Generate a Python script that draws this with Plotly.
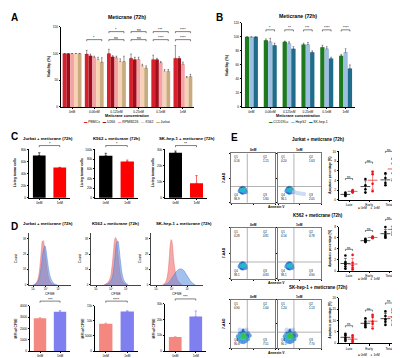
import plotly.graph_objects as go
import numpy as np

W, H = 400, 358
FONT = "Liberation Sans, Arial, sans-serif"

# ---------------- DATA ----------------
conc = ["0nM", "0.06nM", "0.125nM", "0.25nM", "0.5nM", "1nM"]
# Panel A
a_names = ["PBMCs", "U266", "RPMI8226", "K562", "Jurkat"]
a_pbmc = [100, 99, 100, 91, 89, 91]
a_u266 = [100, 96, 94, 89, 89, 91]
a_rpmi = [100, 93, 92, 89, 83, 80]
a_k562 = [100, 89, 85, 77, 67, 55]
a_jurkat = [100, 84, 85, 73, 67, 57]
a_pbmc_err = [0, 7, 8, 8, 8, 24]
a_u266_err = [0, 3, 2, 4, 2, 3]
a_rpmi_err = [0, 2, 3, 4, 2, 4]
a_k562_err = [0, 4, 5, 3, 3, 2]
a_jurkat_err = [0, 8, 10, 4, 3, 4]
a_sig_top = ["", "", "*", "ns", "***", "****"]
a_sig_bot = ["", "*", "ns", "ns", "****", "****"]
# Panel B
b_names = ["CCD19Lu", "HepG2", "SK-hep-1"]
b_ccd = [100, 95, 93, 89, 85, 73]
b_hepg2 = [100, 93, 91, 89, 83, 78]
b_sk = [100, 88, 83, 78, 69, 55]
b_ccd_err = [0, 2, 1, 2, 3, 2]
b_hepg2_err = [0, 5, 2, 3, 3, 5]
b_sk_err = [0, 3, 3, 2, 2, 5]
b_sig = ["", "*", "**", "***", "****", "****"]
# Panel C
c_cats = ["0nM", "1nM"]
c_titles = ["Jurkat + meticrane (72h)", "K562 + meticrane (72h)", "SK-hep-1 + meticrane (72h)"]
c_jurkat = [70000, 50000]
c_k562 = [87000, 75000]
c_skhep = [28000, 9000]
c_jurkat_err = [4500, 500]
c_k562_err = [5000, 3000]
c_skhep_err = [1000, 4800]
c_sig = ["*", "*", "**"]
# Panel D histograms (CFSE, relative units)
d1_0_x = [10, 15, 20, 24, 27, 30, 32, 34, 36, 39, 42, 45, 49, 54, 62]
d1_0_y = [0, 2, 8, 22, 45, 72, 85, 86, 78, 58, 38, 20, 8, 2, 0]
d1_1_x = [12, 18, 23, 27, 30, 33, 36, 38, 40, 43, 46, 50, 55, 60, 68]
d1_1_y = [0, 3, 10, 24, 42, 62, 73, 76, 70, 52, 34, 17, 7, 2, 0]
d2_0_x = [25, 32, 38, 42, 45, 47, 49, 51, 53, 56, 60, 65, 72]
d2_0_y = [0, 3, 12, 35, 65, 85, 92, 88, 70, 40, 15, 4, 0]
d2_1_x = [28, 35, 41, 45, 48, 50, 52, 54, 56, 59, 63, 68, 75]
d2_1_y = [0, 3, 10, 28, 55, 75, 84, 85, 72, 45, 18, 5, 0]
d3_0_x = [22, 28, 32, 35, 37, 39, 41, 43, 46, 50, 55, 60]
d3_0_y = [0, 5, 20, 50, 78, 88, 80, 55, 30, 12, 4, 0]
d3_1_x = [25, 32, 38, 43, 48, 53, 58, 63, 68, 73, 78, 85]
d3_1_y = [0, 3, 10, 18, 25, 30, 31, 28, 20, 12, 5, 0]
# Panel D MFI
d_mfi_jurkat = [2900, 3460]
d_mfi_k562 = [9040, 13090]
d_mfi_skhep = [8900, 21900]
d_mfi_jurkat_err = [40, 110]
d_mfi_k562_err = [200, 250]
d_mfi_skhep_err = [200, 3500]
d_sig = ["***", "****", "***"]
# Panel E flow quadrant values [Q1, Q2, Q3, Q4]
e_rows = ["Jurkat + meticrane (72h)", "K562 + meticrane (72h)", "SK-hep-1 + meticrane (72h)"]
q_jurkat_0 = ["0.16", "1.15", "1.80", "96.9"]
q_jurkat_1 = ["0.20", "1.63", "2.05", "96.1"]
q_k562_0 = ["0.28", "0.81", "0.83", "98.1"]
q_k562_1 = ["0.16", "0.78", "0.90", "98.1"]
q_skhep_0 = ["0.90", "1.00", "7.51", "90.6"]
q_skhep_1 = ["1.20", "1.13", "7.70", "90.1"]
# flow density blobs (Annexin V, 7-AAD, density)
fb_small_x = [20, 23, 26, 29, 32, 24, 27, 30, 22, 28, 33, 25, 29]
fb_small_y = [24, 28, 30, 29, 26, 22, 21, 23, 26, 26, 22, 25, 27]
fb_small_d = [1, 2, 2, 2, 1, 2, 2, 1, 1, 3, 1, 3, 3]
fb_tail_x = [38, 45, 52, 60]
fb_tail_y = [22, 20, 19, 18]
fb_tail_d = [0, 0, 0, 0]
fb_big_x = [16, 20, 24, 28, 33, 38, 42, 18, 23, 28, 33, 38, 21, 26, 31, 36, 24, 29, 34, 27, 31, 20, 35]
fb_big_y = [24, 30, 34, 36, 35, 31, 26, 18, 14, 13, 15, 19, 24, 28, 29, 25, 21, 22, 22, 25, 25, 38, 38]
fb_big_d = [1, 1, 2, 2, 2, 1, 1, 1, 1, 1, 1, 1, 3, 3, 3, 2, 3, 4, 3, 4, 4, 0, 0]
# Panel E apoptosis percentages  [Late, Early, Total]
e_cats = ["Late", "Early", "Total"]
ej_0 = [[0.8, 1.0, 1.2, 1.5], [1.5, 2.2, 3.0, 4.3], [3.0, 3.5, 4.5, 5.5]]
ej_1 = [[1.5, 1.7, 1.8, 2.0], [1.8, 3.3, 5.3, 5.8], [4.0, 5.5, 7.5, 8.5]]
ek_0 = [[0.4, 0.8, 1.2, 1.6, 2.8], [5.2, 5.4, 5.6, 5.8, 5.3], [6.0, 6.2, 6.5, 7.0, 7.9]]
ek_1 = [[0.3, 0.6, 1.0, 1.5, 2.9], [5.9, 6.0, 6.1, 6.2, 6.0], [6.5, 7.0, 7.5, 8.0, 8.4]]
es_0 = [[1.0, 1.8, 2.5, 3.5, 4.2], [7.0, 7.8, 8.5, 9.5, 11.0], [8.0, 9.5, 10.5, 12.0, 14.0]]
es_1 = [[0.5, 1.0, 1.5, 2.5, 3.5], [6.5, 8.5, 9.5, 11.5, 12.5], [8.0, 10.0, 11.5, 13.5, 15.0]]
e_sig_y = [[4.4, 7.8, 10.0], [3.9, 7.3, 9.3], [7.7, 14.6, 17.7]]

# ---------------- HELPERS ----------------
fig = go.Figure()
layout_axes = {}
AX = {}
shapes = []
annots = []


def add_axes(key, box, xr, yr, xkw=None, ykw=None):
    n = len(AX) + 1
    sx = '' if n == 1 else str(n)
    x0, x1, y0, y1 = box
    base = dict(showgrid=False, zeroline=False, showline=True, linecolor='black', linewidth=0.6,
                ticks='outside', ticklen=1.5, tickwidth=0.5, tickcolor='black',
                tickfont=dict(size=3.2, family=FONT, color='black'), fixedrange=True)
    xa = dict(base, domain=[x0 / W, x1 / W], range=xr, anchor='y' + sx)
    ya = dict(base, domain=[1 - y1 / H, 1 - y0 / H], range=yr, anchor='x' + sx)
    if xkw:
        xa.update(xkw)
    if ykw:
        ya.update(ykw)
    layout_axes['xaxis' + sx] = xa
    layout_axes['yaxis' + sx] = ya
    AX[key] = dict(box=box, xr=xr, yr=yr)
    return 'x' + sx, 'y' + sx


def d2p(key, x, y):
    a = AX[key]
    x0, x1, y0, y1 = a['box']
    xr, yr = a['xr'], a['yr']
    px = x0 + (x - xr[0]) / (xr[1] - xr[0]) * (x1 - x0)
    py = y1 - (y - yr[0]) / (yr[1] - yr[0]) * (y1 - y0)
    return px / W, 1 - py / H


def bracket(key, xa, xb, y, label, fs=3.6):
    pa, qy = d2p(key, xa, y)
    pb, _ = d2p(key, xb, y)
    drop = 1.6 / H
    shapes.append(dict(type='path', xref='paper', yref='paper',
                       path=f"M{pa},{qy - drop} L{pa},{qy} L{pb},{qy} L{pb},{qy - drop}",
                       line=dict(color='black', width=0.5)))
    annots.append(dict(x=(pa + pb) / 2, y=qy, xref='paper', yref='paper', text=label,
                       showarrow=False, yanchor='bottom', xanchor='center', yshift=-1.5,
                       font=dict(size=fs, family=FONT, color='black'), borderpad=0))


def text(x, y, s, size=4.0, bold=False, angle=0, xanchor='center', yanchor='middle', color='black'):
    annots.append(dict(x=x / W, y=1 - y / H, xref='paper', yref='paper',
                       text=f"<b>{s}</b>" if bold else s, showarrow=False, textangle=angle,
                       font=dict(size=size, family=FONT, color=color),
                       xanchor=xanchor, yanchor=yanchor, borderpad=0))


def err(arr, col='black'):
    return dict(type='data', array=arr, arrayminus=[0] * len(arr), symmetric=False,
                thickness=0.5, width=0.8, color=col)


# ---------------- PANEL A ----------------
xa, ya = add_axes('A', (53, 186, 17, 98), [-0.5, 5.5], [0, 150],
                  xkw=dict(tickvals=list(range(6)), ticktext=conc),
                  ykw=dict(tickvals=[0, 50, 100, 150]))
a_vals = [a_pbmc, a_u266, a_rpmi, a_k562, a_jurkat]
a_errs = [a_pbmc_err, a_u266_err, a_rpmi_err, a_k562_err, a_jurkat_err]
a_cols = ['#d8202c', '#9e0f1c', '#f3a3a6', '#f8d2b4', '#c9ab80']
bw = 0.17
for k in range(5):
    fig.add_bar(x=list(range(6)), y=a_vals[k], width=bw, offset=-2.5 * bw + k * bw,
                marker=dict(color=a_cols[k], line=dict(width=0)),
                error_y=err(a_errs[k], '#333333'), xaxis=xa, yaxis=ya, showlegend=False)
for i in range(6):
    if a_sig_top[i]:
        bracket('A', i - 2 * bw, i + 2 * bw, 141, a_sig_top[i])
    if a_sig_bot[i]:
        bracket('A', i - 2 * bw, i + 2 * bw, 126, a_sig_bot[i])
text(2, 1, "A", 10, True, xanchor='left', yanchor='top')
text(119, 7.5, "Meticrane (72h)", 5.2, True)
text(41, 57, "Viability (%)", 3.8, True, angle=-90)
text(119, 107, "Meticrane concentration", 3.8, True)
text(119, 113.5, "   ".join(f"<span style='color:{c}'>▬</span> {n}" for c, n in zip(a_cols, a_names)), 3.4)

# ---------------- PANEL B ----------------
xb, yb = add_axes('B', (234, 347, 13, 98), [-0.5, 5.5], [0, 120],
                  xkw=dict(tickvals=list(range(6)), ticktext=conc),
                  ykw=dict(tickvals=[0, 20, 40, 60, 80, 100, 120]))
b_vals = [b_ccd, b_hepg2, b_sk]
b_errs = [b_ccd_err, b_hepg2_err, b_sk_err]
b_cols = ['#1d7a1f', '#9fbfe2', '#1f6c8b']
bw2 = 0.23
for k in range(3):
    fig.add_bar(x=list(range(6)), y=b_vals[k], width=bw2, offset=-1.5 * bw2 + k * bw2,
                marker=dict(color=b_cols[k], line=dict(width=0)),
                error_y=err(b_errs[k], '#333333'), xaxis=xb, yaxis=yb, showlegend=False)
for i in range(6):
    if b_sig[i]:
        bracket('B', i - bw2, i + bw2, 110, b_sig[i])
text(207, 1, "B", 10, True, xanchor='left', yanchor='top')
text(290, 6, "Meticrane (72h)", 5.2, True)
text(219, 56, "Viability (%)", 3.8, True, angle=-90)
text(290, 107, "Meticrane concentration", 3.8, True)
text(290, 113.5, "   ".join(f"<span style='color:{c}'>▬</span> {n}" for c, n in zip(b_cols, b_names)), 3.4)

# ---------------- PANEL C ----------------
text(2, 121, "C", 10, True, xanchor='left', yanchor='top')
c_vals = [c_jurkat, c_k562, c_skhep]
c_errs = [c_jurkat_err, c_k562_err, c_skhep_err]
c_boxes = [(21, 62, 141, 190), (87, 130, 141, 190), (157, 199, 141, 190)]
c_top = [80000, 100000, 30000]
c_dt = [20000, 20000, 10000]
c_tcx = [40, 108, 179]
c_ytx = [7, 74, 145]
for j in range(3):
    key = f'C{j}'
    xx, yy = add_axes(key, c_boxes[j], [-0.5, 1.5], [0, c_top[j]],
                      xkw=dict(tickvals=[0, 1], ticktext=c_cats),
                      ykw=dict(tickvals=list(range(0, c_top[j] + 1, c_dt[j]))))
    cols = ['#000000', '#ff0000']
    for k in range(2):
        fig.add_bar(x=[k], y=[c_vals[j][k]], width=0.62, marker=dict(color=cols[k], line=dict(width=0)),
                    error_y=dict(type='data', array=[c_errs[j][k]], arrayminus=[0], symmetric=False,
                                 thickness=0.6, width=1.2, color=cols[k]),
                    xaxis=xx, yaxis=yy, showlegend=False)
    bracket(key, 0, 1, c_top[j] * 1.08, c_sig[j], 4)
    text(c_tcx[j], 130, c_titles[j], 4.3, True)
    text(c_ytx[j], 165, "Living tumor cells", 3.4, True, angle=-90)

# ---------------- PANEL D ----------------
text(2, 212, "D", 10, True, xanchor='left', yanchor='top')
h_boxes = [(21, 63, 226, 278), (83, 133, 226, 278), (143, 195, 226, 278)]
hist = [((d1_0_x, d1_0_y), (d1_1_x, d1_1_y)), ((d2_0_x, d2_0_y), (d2_1_x, d2_1_y)),
        ((d3_0_x, d3_0_y), (d3_1_x, d3_1_y))]
d_tcx = [40, 107, 176]
d_cnt_x = [8, 72, 132]
for j in range(3):
    key = f'H{j}'
    xx, yy = add_axes(key, h_boxes[j], [0, 100], [0, 100],
                      xkw=dict(tickvals=[10, 40, 70], ticktext=['10³', '10⁴', '10⁵'],
                               linecolor='#444', tickfont=dict(size=2.6, family=FONT)),
                      ykw=dict(tickvals=[0, 30, 60, 90], ticktext=['0', '1K', '2K', '3K'],
                               linecolor='#444', tickfont=dict(size=2.6, family=FONT)))
    (x0_, y0_), (x1_, y1_) = hist[j]
    fig.add_scatter(x=x0_, y=y0_, mode='lines', fill='tozeroy', line=dict(color='#e86a6a', width=0.5, shape='spline'),
                    fillcolor='rgba(240,110,110,0.6)', xaxis=xx, yaxis=yy, showlegend=False)
    fig.add_scatter(x=x1_, y=y1_, mode='lines', fill='tozeroy', line=dict(color='#4a82d8', width=0.5, shape='spline'),
                    fillcolor='rgba(90,140,225,0.55)', xaxis=xx, yaxis=yy, showlegend=False)
    text(d_tcx[j], 216, c_titles[j], 4.3, True)
    text(d_cnt_x[j], 252, "Count", 3.4, False, angle=-90)
    text((h_boxes[j][0] + h_boxes[j][1]) / 2, 287, "CFSE", 3.6)

m_boxes = [(22, 62, 299, 345), (87, 130, 299, 345), (157, 198, 297, 345)]
m_vals = [d_mfi_jurkat, d_mfi_k562, d_mfi_skhep]
m_errs = [d_mfi_jurkat_err, d_mfi_k562_err, d_mfi_skhep_err]
m_top = [4000, 15000, 30000]
m_dt = [1000, 5000, 10000]
m_ytx = [8, 75, 146]
mcols = ['#f4877f', '#7f7ff0']
for j in range(3):
    key = f'M{j}'
    xx, yy = add_axes(key, m_boxes[j], [-0.5, 1.5], [0, m_top[j]],
                      xkw=dict(tickvals=[0, 1], ticktext=c_cats, ticklen=1),
                      ykw=dict(tickvals=list(range(0, m_top[j] + 1, m_dt[j]))))
    for k in range(2):
        fig.add_bar(x=[k], y=[m_vals[j][k]], width=0.62, marker=dict(color=mcols[k], line=dict(width=0)),
                    error_y=dict(type='data', array=[m_errs[j][k]], arrayminus=[0], symmetric=False,
                                 thickness=0.6, width=1.2, color=mcols[k]),
                    xaxis=xx, yaxis=yy, showlegend=False)
    bracket(key, 0, 1, m_top[j] * 1.1, d_sig[j], 4)
    text(m_ytx[j], 322, "MFI of CFSE", 3.4, True, angle=-90)

# ---------------- PANEL E ----------------
text(222, 122, "E", 10, True, xanchor='left', yanchor='top')
rows_y = [(145, 195), (220, 272), (293, 342)]
title_y = [131, 208, 281]
q_sets = [(q_jurkat_0, q_jurkat_1), (q_k562_0, q_k562_1), (q_skhep_0, q_skhep_1)]
blob_sets = [((fb_small_x, fb_small_y, fb_small_d), (fb_small_x + fb_tail_x, fb_small_y + fb_tail_y, fb_small_d + fb_tail_d)),
             ((fb_small_x, fb_small_y, fb_small_d), (fb_small_x, fb_small_y, fb_small_d)),
             ((fb_big_x, fb_big_y, fb_big_d), (fb_big_x, fb_big_y, fb_big_d))]
flow_x = [(223, 267), (270, 313)]
cscale = [[0, '#c5d6f3'], [0.25, '#4a8fe0'], [0.5, '#1563d3'], [0.75, '#22bcc8'], [1, '#3cc23c']]
gate_x, gate_y = 37, 33
for r in range(3):
    y0, y1 = rows_y[r]
    text(310, title_y[r], e_rows[r], 4.5, True)
    text(216, (y0 + y1) / 2, "7-AAD", 3.4, True, angle=-90)
    text(268, y1 + 4.5, "Annexin V", 3.4, True)
    for s in range(2):
        key = f'F{r}{s}'
        xx, yy = add_axes(key, (flow_x[s][0], flow_x[s][1], y0, y1), [0, 100], [0, 100],
                          xkw=dict(showticklabels=False, mirror=True, linecolor='#777', ticklen=1),
                          ykw=dict(showticklabels=False, mirror=True, linecolor='#777', ticklen=1))
        bx, by, bd = blob_sets[r][s]
        fig.add_scatter(x=bx, y=by, mode='markers',
                        marker=dict(size=4.5, color=bd, colorscale=cscale, cmin=0, cmax=4, opacity=0.85,
                                    line=dict(width=0)),
                        xaxis=xx, yaxis=yy, showlegend=False)
        fig.add_scatter(x=[gate_x, gate_x], y=[0, 100], mode='lines', line=dict(color='#666', width=0.5),
                        xaxis=xx, yaxis=yy, showlegend=False)
        fig.add_scatter(x=[0, 100], y=[gate_y, gate_y], mode='lines', line=dict(color='#666', width=0.5),
                        xaxis=xx, yaxis=yy, showlegend=False)
        q = q_sets[r][s]
        for (qx, qy, name, val) in [(5, 88, "Q1", q[0]), (70, 88, "Q2", q[1]), (70, 12, "Q3", q[2]), (5, 12, "Q4", q[3])]:
            px_, py_ = d2p(key, qx, qy)
            annots.append(dict(x=px_, y=py_, xref='paper', yref='paper', text=f"{name}<br>{val}",
                               showarrow=False, xanchor='left', yanchor='middle', align='left',
                               font=dict(size=2.8, family=FONT, color='black'), borderpad=0))
        text((flow_x[s][0] + flow_x[s][1]) / 2, y0 - 3, ["0nM", "1nM"][s], 3.2, True)

s_rows = [(ej_0, ej_1, 10, 2), (ek_0, ek_1, 8, 2), (es_0, es_1, 20, 5)]
s_boxes = [(331, 391, 143, 192), (331, 391, 219, 264), (331, 391, 291, 337)]
leg_y = [200, 272, 349]
for r in range(3):
    key = f'S{r}'
    g0, g1, top, dt = s_rows[r]
    xx, yy = add_axes(key, s_boxes[r], [-0.5, 2.5], [0, top],
                      xkw=dict(tickvals=[0, 1, 2], ticktext=e_cats, tickfont=dict(size=3.4, family=FONT)),
                      ykw=dict(tickvals=list(range(0, top + 1, dt))))
    for grp, off, col in [(g0, -0.18, '#000000'), (g1, 0.18, '#e8161b')]:
        xs, ys = [], []
        for c in range(3):
            xs += [c + off] * len(grp[c])
            ys += grp[c]
        fig.add_scatter(x=xs, y=ys, mode='markers', marker=dict(size=2.6, color=col),
                        xaxis=xx, yaxis=yy, showlegend=False, cliponaxis=False)
        means = [float(np.mean(grp[c])) for c in range(3)]
        sds = [float(np.std(grp[c], ddof=1)) for c in range(3)]
        fig.add_scatter(x=[c + off for c in range(3)], y=means, mode='markers',
                        marker=dict(symbol='line-ew', size=7, line=dict(color=col, width=0.7)),
                        error_y=dict(type='data', array=sds, thickness=0.5, width=1.5, color=col),
                        xaxis=xx, yaxis=yy, showlegend=False, cliponaxis=False)
    for c in range(3):
        bracket(key, c - 0.18, c + 0.18, e_sig_y[r][c], "ns", 3.2)
    text(322, (s_boxes[r][2] + s_boxes[r][3]) / 2, "Apoptosis percentage (%)", 3.0, True, angle=-90)
    text(361, leg_y[r], "<span style='color:#000'>●</span> 0nM    <span style='color:#e8161b'>●</span> 1nM", 3.2)

fig.update_layout(width=W, height=H, margin=dict(l=0, r=0, t=0, b=0),
                  paper_bgcolor='white', plot_bgcolor='white', showlegend=False,
                  barmode='overlay', font=dict(family=FONT, size=4, color='black'),
                  shapes=shapes, annotations=annots, **layout_axes)
fig.write_html("out.html")
